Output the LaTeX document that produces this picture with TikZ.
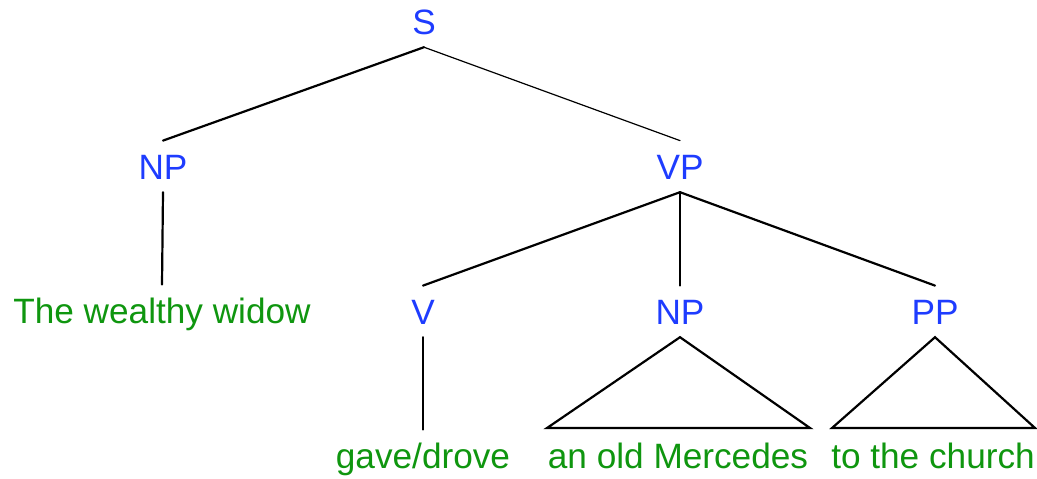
\documentclass[tikz,border=0pt]{standalone}
\usepackage{fontspec}
\setmainfont{Liberation Sans}
\definecolor{catblue}{RGB}{30,60,255}
\definecolor{wordgreen}{RGB}{15,150,15}
\tikzset{
  cat/.style={anchor=base, inner xsep=2pt, inner ysep=6.4pt, text height=12.6pt, text depth=0pt,
    text=catblue, font=\fontsize{17.6}{20}\selectfont},
  word/.style={cat, text=wordgreen},
  branch/.style={line width=1.1pt, line cap=round},
  thinbranch/.style={line width=0.6pt, line cap=round},
}
\begin{document}
\begin{tikzpicture}[x=0.5pt, y=-0.5pt]
  \useasboundingbox (0,0) rectangle (1037,478);
  % category labels
  \node[cat] (S)   at (424,34)  {S};
  \node[cat] (NP1) at (163,179) {NP};
  \node[cat] (VP)  at (680,179) {VP};
  \node[cat] (V)   at (423,324) {V};
  \node[cat] (NP2) at (680,324) {NP};
  \node[cat] (PP)  at (935,324) {PP};
  % words
  \node[word] (w1) at (162,323) {The wealthy widow};
  \node[word] (w2) at (423,468) {gave/drove};
  \node[word] (w3) at (678,468) {an old Mercedes};
  \node[word] (w4) at (933,468) {to the church};
  % triangle corners
  \coordinate (t1l) at (547,428);
  \coordinate (t1r) at (810,428);
  \coordinate (t2l) at (832,428);
  \coordinate (t2r) at (1035,428);
  % branches
  \draw[branch] (S.south) -- (NP1.north);
  \draw[thinbranch] (S.south) -- (VP.north);
  \draw[branch] (NP1.south) -- (w1.north);
  \draw[branch] (VP.south) -- (V.north);
  \draw[branch] (VP.south) -- (NP2.north);
  \draw[branch] (VP.south) -- (PP.north);
  \draw[branch] (V.south) -- (w2.north);
  \draw[branch, line join=miter] (NP2.south) -- (t1r) -- (t1l) -- cycle;
  \draw[branch, line join=miter] (PP.south) -- (t2r) -- (t2l) -- cycle;
\end{tikzpicture}
\end{document}
